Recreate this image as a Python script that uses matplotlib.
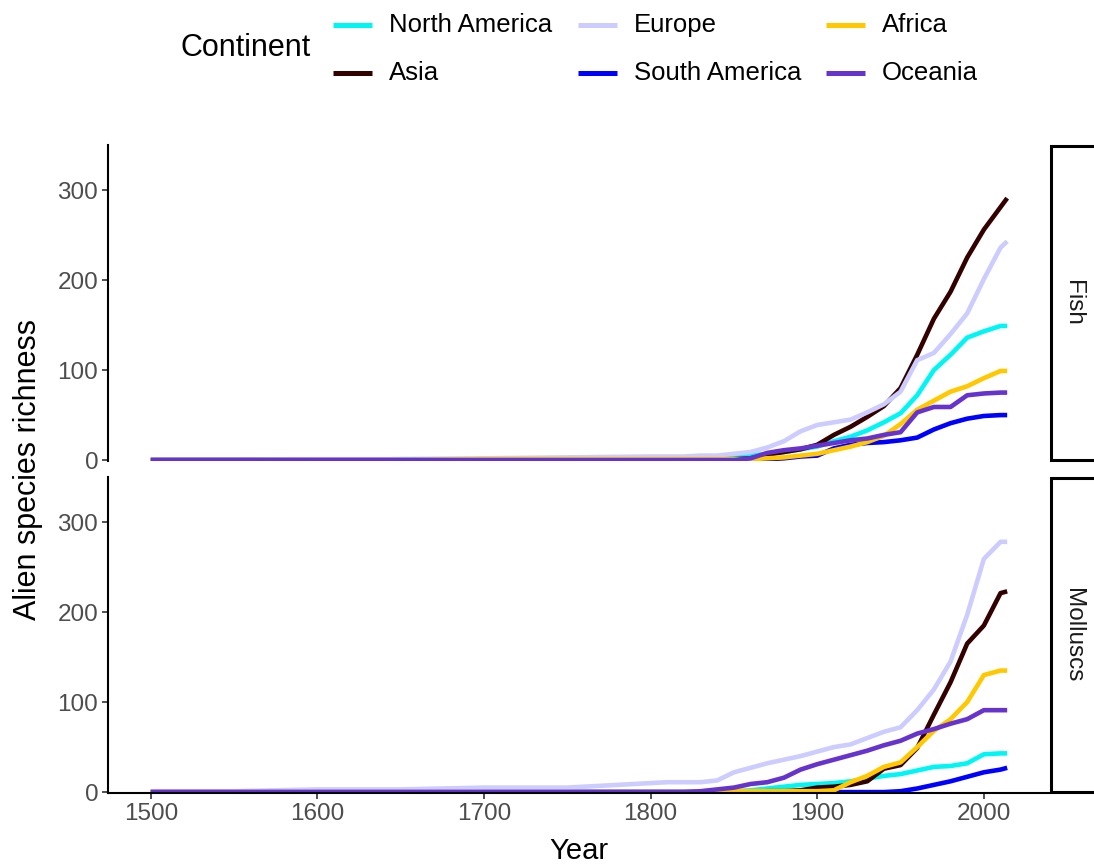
import matplotlib
matplotlib.use("Agg")
import matplotlib.pyplot as plt
from matplotlib.lines import Line2D
from matplotlib.patches import Rectangle

plt.rcParams['font.family'] = ['Liberation Sans', 'DejaVu Sans']

# data (cumulative alien species counts)
years = [1500, 1550, 1600, 1650, 1700, 1750, 1800, 1810, 1820, 1830, 1840,
         1850, 1860, 1870, 1880, 1890, 1900, 1910, 1920, 1930, 1940,
         1950, 1960, 1970, 1980, 1990, 2000, 2010, 2014]

continents = ["North America", "Asia", "Europe", "South America", "Africa", "Oceania"]
colors = ["#00F5F5", "#330000", "#CCCCFF", "#0000FF", "#FFC800", "#6633CC"]

fish_na = [0, 0, 0, 1, 1, 1, 2, 2, 2, 2, 3, 3, 5, 7, 9, 12, 15, 21, 26, 33, 42, 52, 72, 100, 117, 136, 143, 149, 149]
fish_asia = [0, 0, 0, 0, 0, 0, 0, 0, 0, 0, 1, 1, 2, 6, 9, 12, 17, 28, 37, 48, 60, 80, 117, 157, 187, 225, 256, 281, 291]
fish_europe = [0, 0, 1, 1, 2, 3, 4, 4, 4, 5, 5, 7, 9, 14, 21, 32, 39, 42, 45, 53, 62, 76, 111, 119, 140, 163, 201, 236, 243]
fish_sa = [0, 0, 0, 0, 0, 0, 0, 0, 0, 0, 0, 0, 0, 1, 2, 4, 5, 13, 17, 19, 20, 22, 25, 34, 41, 46, 49, 50, 50]
fish_africa = [0, 0, 0, 0, 1, 1, 1, 1, 1, 1, 1, 1, 1, 2, 3, 5, 7, 11, 15, 20, 27, 40, 56, 66, 76, 82, 91, 99, 99]
fish_oceania = [0, 0, 0, 0, 0, 0, 0, 0, 0, 0, 0, 0, 2, 8, 11, 13, 16, 19, 22, 24, 28, 31, 53, 59, 59, 72, 74, 75, 75]

moll_na = [0, 0, 0, 0, 0, 0, 0, 0, 0, 0, 0, 1, 2, 4, 6, 8, 9, 10, 12, 15, 18, 20, 24, 28, 29, 32, 42, 43, 43]
moll_asia = [0, 0, 0, 0, 0, 0, 0, 0, 0, 0, 0, 0, 0, 1, 1, 2, 5, 6, 8, 12, 26, 30, 49, 86, 122, 165, 185, 221, 223]
moll_europe = [1, 1, 3, 3, 5, 5, 10, 11, 11, 11, 13, 22, 27, 32, 36, 40, 45, 50, 53, 60, 67, 72, 91, 114, 145, 197, 259, 278, 278]
moll_sa = [0, 0, 0, 0, 0, 0, 0, 0, 0, 0, 0, 0, 0, 0, 0, 0, 0, 0, 0, 0, 0, 1, 4, 8, 12, 17, 22, 25, 27]
moll_africa = [0, 0, 0, 0, 0, 0, 0, 0, 0, 0, 0, 1, 1, 1, 1, 1, 1, 2, 11, 18, 28, 33, 50, 68, 81, 100, 130, 135, 135]
moll_oceania = [0, 0, 0, 0, 0, 0, 0, 0, 0, 1, 3, 5, 9, 11, 16, 25, 31, 36, 41, 46, 52, 57, 65, 70, 76, 81, 91, 91, 91]

panels = [
    ("Fish", [fish_na, fish_asia, fish_europe, fish_sa, fish_africa, fish_oceania]),
    ("Molluscs", [moll_na, moll_asia, moll_europe, moll_sa, moll_africa, moll_oceania]),
]

W, H = 1094, 867
fig = plt.figure(figsize=(W / 100, H / 100), dpi=100)


def fx(px):
    return px / W


def fy(py):
    return 1 - py / H


left, right = 108, 1050
tops = [(145, 461), (477, 793)]

for i, (name, series) in enumerate(panels):
    top, bot = tops[i]
    ax = fig.add_axes([fx(left), fy(bot), fx(right - left), (bot - top) / H])
    for vals, c in zip(series, colors):
        ax.plot(years, vals, color=c, lw=3.3, solid_capstyle='butt')
    ax.set_xlim(1474.3, 2039.7)
    ax.set_ylim(-1, 350)
    ax.set_yticks([0, 100, 200, 300])
    ax.set_xticks([1500, 1600, 1700, 1800, 1900, 2000])
    for s in ["top", "right"]:
        ax.spines[s].set_visible(False)
    ax.spines["left"].set_linewidth(1.5)
    ax.spines["bottom"].set_linewidth(1.5)
    ax.tick_params(labelsize=17.5, labelcolor="#4D4D4D", color="#333333",
                   length=4, width=1.2, pad=3)
    if i == 0:
        ax.spines["bottom"].set_visible(False)
        ax.tick_params(axis="x", bottom=False, labelbottom=False)

    # facet strip on the right
    fig.add_artist(Rectangle((fx(right + 1), fy(bot - 1)), fx(80), (bot - top - 2) / H,
                             transform=fig.transFigure, facecolor="white",
                             edgecolor="black", lw=2.2, clip_on=False))
    fig.text(fx(1073), fy((top + bot) / 2), name, rotation=-90, ha="center",
             va="center", fontsize=17.5, color="#1A1A1A")

fig.text(fx(28), fy(469), "Alien species richness", rotation=90, ha="center",
         va="center", fontsize=22)
fig.text(fx(579), fy(851), "Year", ha="center", va="center", fontsize=21)

# legend
fig.text(fx(180), fy(48), "Continent", ha="left", va="center", fontsize=22)
key_x = [333, 578, 826]
row_y = [25, 73]
for k, (lab, c) in enumerate(zip(continents, colors)):
    col, row = k // 2, k % 2
    x0 = key_x[col]
    y0 = row_y[row]
    fig.add_artist(Line2D([fx(x0), fx(x0 + 39)], [fy(y0), fy(y0)], color=c, lw=3.6,
                          transform=fig.transFigure, solid_capstyle='butt'))
    fig.text(fx(x0 + 56), fy(y0), lab, ha="left", va="center", fontsize=18.5)

fig.savefig("out.png", dpi=100)
